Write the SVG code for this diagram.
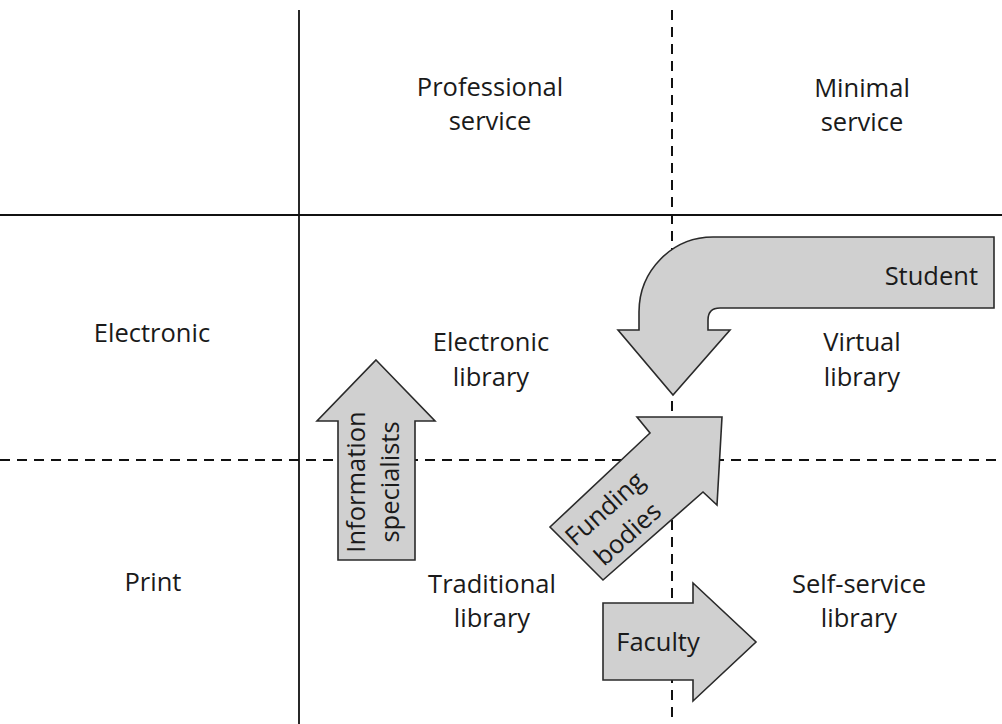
<svg xmlns="http://www.w3.org/2000/svg" width="1002" height="724" viewBox="0 0 1002 724">
<style>
.t{font-family:"Open Sans","Liberation Sans",sans-serif;font-size:25.5px;fill:#1a1a1a;text-anchor:middle}
.ln{stroke:#111;stroke-width:1.8;fill:none}
.dl{stroke:#111;stroke-width:2;fill:none;stroke-dasharray:10 7}
.ar{fill:#d0d0d0;stroke:#2a2a2a;stroke-width:1.6;stroke-linejoin:miter}
</style>
<rect width="1002" height="724" fill="#fff"/>
<g id="connectors">
<line class="ln" x1="299" y1="10" x2="299" y2="724"/>
<line class="ln" x1="0" y1="215" x2="1002" y2="215"/>
<line class="dl" x1="672" y1="10" x2="672" y2="724"/>
<line class="dl" x1="0" y1="460" x2="1002" y2="460"/>
</g>
<g id="header-professional"><text class="t" x="490" y="96">Professional</text><text class="t" x="490" y="130">service</text></g>
<g id="header-minimal"><text class="t" x="862" y="97">Minimal</text><text class="t" x="862" y="131">service</text></g>
<g id="row-electronic"><text class="t" x="152" y="342">Electronic</text></g>
<g id="row-print"><text class="t" x="153" y="591">Print</text></g>
<g id="electronic-library"><text class="t" x="491" y="351">Electronic</text><text class="t" x="491" y="386">library</text></g>
<g id="virtual-library"><text class="t" x="862" y="351">Virtual</text><text class="t" x="862" y="386">library</text></g>
<g id="traditional-library"><text class="t" x="492" y="593">Traditional</text><text class="t" x="492" y="627">library</text></g>
<g id="self-service-library"><text class="t" x="859" y="593">Self-service</text><text class="t" x="859" y="627">library</text></g>
<g id="student">
<path class="ar" d="M994 237 L994 308 L720 308 Q708 308 708 320 L708 330 L730 330 L673 395 L618 330 L639 330 L639 312 A74 75 0 0 1 713 237 Z"/>
<text class="t" x="978" y="285" style="text-anchor:end">Student</text>
</g>
<g id="information-specialists">
<path class="ar" d="M376 360 L435 421 L415 421 L415 560 L338 560 L338 421 L317 421 Z"/>
<g transform="translate(373,482) rotate(-90)"><text class="t" x="0" y="-8">Information</text><text class="t" x="0" y="26">specialists</text></g>
</g>
<g id="funding-bodies">
<path class="ar" d="M722 417 L717 505 L703 492 L603 580 L550 527 L650 433 L637 417 Z"/>
<g transform="translate(616,521) rotate(-42)"><text class="t" x="0" y="-8">Funding</text><text class="t" x="0" y="26">bodies</text></g>
</g>
<g id="faculty">
<path class="ar" d="M603 603 L693 603 L693 583 L756 642 L693 701 L693 680 L603 680 Z"/>
<text class="t" x="658" y="651">Faculty</text>
</g>
</svg>
